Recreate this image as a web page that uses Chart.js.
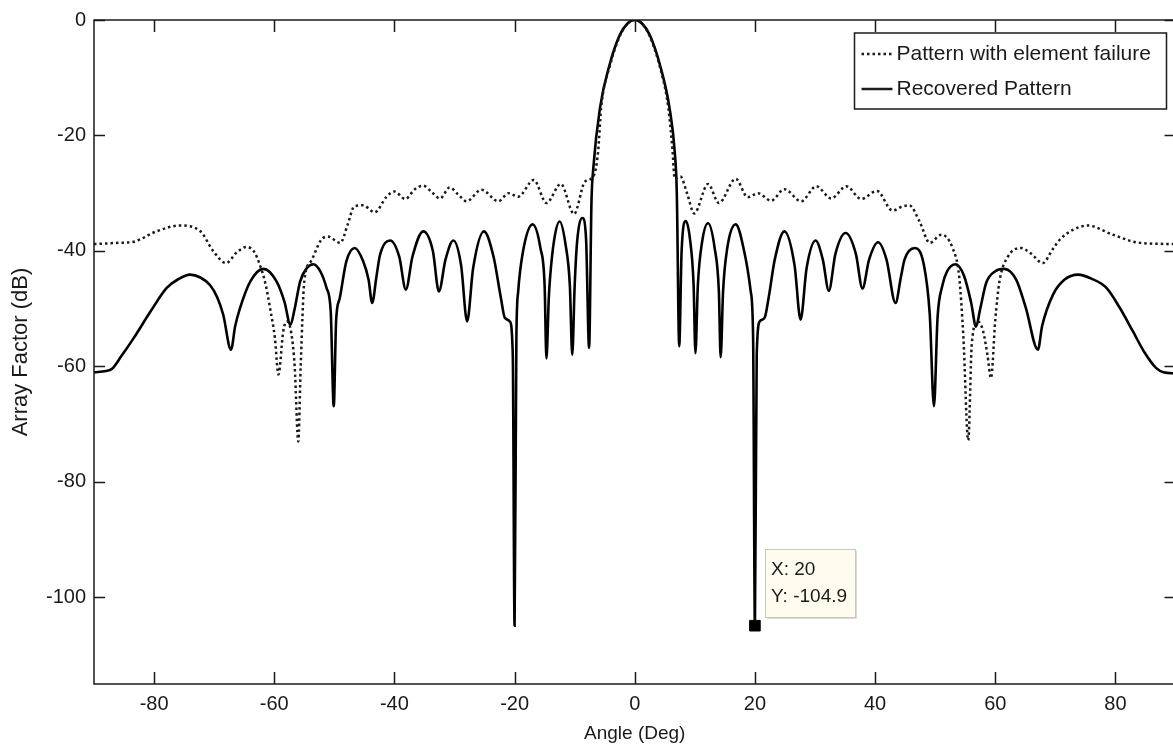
<!DOCTYPE html>
<html>
<head>
<meta charset="utf-8">
<script src="https://cdn.jsdelivr.net/npm/chart.js@4"></script>
<style>
  html, body { margin: 0; padding: 0; background: #fff; overflow: hidden; }
  canvas { display: block; }
</style>
</head>
<body>
<canvas id="afChart" width="1184" height="751"></canvas>
<script>
// values (angle in deg, level in dB)
const failAngles = [-90, -86, -83.4, -79.6, -75.7, -72.3, -70.1, -68, -66.3, -64.6, -63.3, -62.4, -61.5, -60.7, -59.9, -59.3, -58.5, -57.9, -57.2, -56.6, -56, -55.6, -55, -53.9, -52.2, -51.1, -49, -47.8, -46.7, -45.2, -43.3, -41.3, -40, -38.2, -36.6, -35.2, -33.8, -32.4, -30.8, -29.4, -28, -25.5, -22.7, -21, -19.4, -16.8, -14.7, -12.3, -10.1, -8.3, -6.9, -6.1, -5.6, -4.1, -2.4, -1.2, 0,
  1.2, 2.4, 4.1, 5.6, 6.3, 6.65, 7.6, 8.7, 9.9, 12.2, 14, 16.8, 18.8, 20.5, 22.7, 24.9, 27.7, 30.2, 32.7, 35.2, 37.7, 40.3, 42.9, 44.5, 45.7, 47.4, 49.1, 51, 52.9, 54, 54.7, 55.5, 56.1, 57.1, 58, 58.7, 59.3, 60, 60.7, 62.1, 64.3, 66, 67.9, 69.5, 70.7, 73, 75.4, 79.6, 84.1, 90];
const failLevels = [-38.8, -38.6, -38.4, -36.6, -35.6, -36.6, -40.1, -42.1, -40.3, -39.3, -40.2, -42.4, -45.5, -49.9, -55, -61.4, -53.9, -52.2, -54, -60, -73, -60, -45.3, -41.8, -38.1, -37.5, -38.6, -35.5, -32.3, -32.1, -33.3, -30.6, -29.7, -31, -29.3, -28.7, -29.8, -30.9, -29, -30.2, -31.4, -29.4, -31.4, -30, -30.6, -27.7, -31.7, -28.4, -33.6, -28, -27.1, -22.8, -15.3, -7.8, -2.6, -0.6, 0,
  -0.6, -2.6, -7.8, -15.3, -22.8, -27.5, -27.1, -30, -33.5, -28.4, -31.7, -27.5, -30.7, -30, -31.3, -29.3, -31.4, -28.8, -30.9, -28.8, -31, -29.6, -33, -32.3, -32.1, -34.9, -38.6, -37.2, -39.5, -44.5, -55, -72.8, -56, -52.2, -54, -58, -62, -52, -45.3, -41, -39.5, -40.5, -42.1, -39.8, -38.1, -36.3, -35.6, -37.2, -38.6, -38.8];

const recAngles = [-90, -88, -87, -85.5, -83.4, -80.6, -77.9, -76, -74, -72.3, -70.7, -69.5, -68.5, -67.2, -66.5, -65.7, -64, -61.8, -59.6, -58.3, -57.3, -56.6, -55.7, -54.6, -53.5, -52.3, -51.3, -50.6, -50.1, -49.7, -49.1, -48, -46.6, -45.2, -44.3, -43.7, -43, -42.4, -40.7, -39.2, -38.1, -37, -35.2, -33.6, -32.6, -31.5, -30.2, -28.9, -27.9, -26.9, -25.1, -23.5, -22.3, -21.6, -20.8, -20.3, -20, -19.7, -19.4, -18.6, -17, -15.7, -15, -14.7, -14.3, -14.1, -13.4, -12.5, -11.5, -10.8, -10.4, -10, -9.6, -8.7, -8.1, -7.6, -7.2, -6.9, -5.8, -4.2, -2.5, -1.2, 0,
  1.2, 2.5, 4.2, 5.8, 6.65, 7, 7.4, 7.8, 8.5, 9.2, 9.8, 10.1, 10.5, 11.2, 12.2, 13.3, 14, 14.3, 14.7, 15.4, 16.8, 18.3, 19.3, 19.7, 20, 20.3, 20.8, 21.6, 22.3, 23.3, 24.9, 26.6, 27.6, 28.6, 30.1, 31.3, 32.3, 33.4, 35.1, 36.8, 37.9, 39, 40.5, 41.9, 43.4, 44.3, 44.9, 46.6, 48.1, 49.1, 49.8, 50.4, 51.2, 52, 53.4, 54.8, 56, 56.8, 57.5, 58.5, 60, 61.5, 63.5, 65.1, 67.1, 67.8, 69.6, 71.5, 73.8, 76, 78.5, 80.7, 82.9, 84.8, 86.8, 88, 90];
const recLevels = [-61, -60.8, -60.4, -58.3, -55.1, -50.5, -46.4, -44.9, -44.1, -44.6, -45.9, -48, -51, -57.1, -53, -49.9, -45.3, -43.1, -45.3, -48.8, -52.8, -50, -45.3, -43, -42.3, -43.6, -46.4, -50.5, -66.9, -52, -48.2, -41.8, -39.5, -41.8, -45, -49, -44.5, -40.7, -38.2, -41, -46.7, -41, -36.6, -40, -47, -41.5, -38.2, -42.5, -52.2, -43, -36.6, -41, -48, -51.6, -52.2, -58, -104.9, -55, -47, -40.1, -35.4, -39.5, -46, -58.6, -48, -44.7, -38, -34.9, -39, -46, -58, -46, -38.5, -34.3, -38, -56.8, -31.4, -25.7, -15.3, -7.8, -2.6, -0.6, 0,
  -0.6, -2.6, -7.8, -15.3, -22.8, -30, -56.5, -40, -34.8, -38, -46, -57.7, -46, -38.5, -35.2, -39.5, -47, -58.4, -47, -39.5, -35.4, -40.5, -47, -55, -104.9, -58, -52.2, -51.6, -48, -41.5, -36.6, -42.5, -51.9, -43, -38.2, -41.5, -46.9, -40.5, -36.9, -40.5, -46.5, -41.5, -38.5, -41.5, -49, -44.5, -41.5, -39.5, -42.3, -51, -66.9, -51.5, -46, -43.5, -42.3, -44.3, -49, -53.1, -50, -45.5, -43.5, -43.1, -45, -49.9, -57.1, -53, -47.6, -45, -44.1, -44.8, -46.4, -49.8, -53.9, -57.5, -60.3, -61, -61.2];

const xTickValues = [-80, -60, -40, -20, 0, 20, 40, 60, 80];
const yTickValues = [0, -20, -40, -60, -80, -100];
const seriesNames = ['Pattern with element failure', 'Recovered Pattern'];
const tipPoint = { x: 20, y: -104.9 };

const ink = '#1a1a1a';
const fontFamily = 'Liberation Sans, Arial, sans-serif';
const tickFont = { family: fontFamily, size: 20 };

function pairs(xs, ys) {
    return xs.map((x, i) => ({ x: x, y: ys[i] }));
}

// MATLAB-like box with inward ticks, legend box and data tip
const boxPlugin = {
    id: 'boxPlugin',
    afterDatasetsDraw(chart) {
        const ctx = chart.ctx;
        const a = chart.chartArea;
        const xs = chart.scales.x, ys = chart.scales.y;
        ctx.save();
        ctx.strokeStyle = ink;
        ctx.lineWidth = 1.5;
        ctx.strokeRect(a.left, a.top, a.right - a.left, a.bottom - a.top);
        ctx.beginPath();
        xTickValues.forEach(v => {
            const p = Math.round(xs.getPixelForValue(v)) + 0.5;
            ctx.moveTo(p, a.bottom); ctx.lineTo(p, a.bottom - 12);
            ctx.moveTo(p, a.top); ctx.lineTo(p, a.top + 12);
        });
        yTickValues.forEach(v => {
            const p = Math.round(ys.getPixelForValue(v)) + 0.5;
            ctx.moveTo(a.left, p); ctx.lineTo(a.left + 11, p);
            ctx.moveTo(a.right, p); ctx.lineTo(a.right - 11, p);
        });
        ctx.stroke();

        // legend
        const lx = a.right - 321, ly = a.top + 13, lw = 312, lh = 76;
        ctx.fillStyle = '#fff';
        ctx.fillRect(lx, ly, lw, lh);
        ctx.lineWidth = 1.5;
        ctx.strokeRect(lx, ly, lw, lh);
        ctx.font = '21px ' + fontFamily;
        ctx.textBaseline = 'middle';
        ctx.fillStyle = ink;
        const rows = [ly + 21, ly + 56];
        ctx.lineWidth = 2.5;
        ctx.setLineDash([2.5, 3]);
        ctx.beginPath(); ctx.moveTo(lx + 7, rows[0]); ctx.lineTo(lx + 38, rows[0]); ctx.stroke();
        ctx.setLineDash([]);
        ctx.beginPath(); ctx.moveTo(lx + 7, rows[1]); ctx.lineTo(lx + 38, rows[1]); ctx.stroke();
        ctx.fillText(seriesNames[0], lx + 42, rows[0]);
        ctx.fillText(seriesNames[1], lx + 42, rows[1]);

        // data tip
        const px = xs.getPixelForValue(tipPoint.x), py = ys.getPixelForValue(tipPoint.y);
        const bx = Math.round(px + 10), by = Math.round(py - 77), bw = 90, bh = 68;
        ctx.fillStyle = 'rgba(0,0,0,0.15)';
        ctx.fillRect(bx + 2, by + 2, bw, bh);
        ctx.fillStyle = '#fffcef';
        ctx.fillRect(bx, by, bw, bh);
        ctx.strokeStyle = '#c8c8c0';
        ctx.lineWidth = 1;
        ctx.strokeRect(bx + 0.5, by + 0.5, bw, bh);
        ctx.fillStyle = ink;
        ctx.font = '19px ' + fontFamily;
        ctx.fillText('X: ' + tipPoint.x, bx + 6, by + 21);
        ctx.fillText('Y: ' + tipPoint.y, bx + 6, by + 48);
        ctx.restore();
    }
};

const chart = new Chart(document.getElementById('afChart'), {
    type: 'line',
    data: {
        datasets: [{
            label: seriesNames[0],
            data: pairs(failAngles, failLevels),
            borderColor: ink,
            borderWidth: 2.5,
            borderDash: [2.5, 3],
            pointRadius: 0,
            tension: 0.3,
            cubicInterpolationMode: 'monotone'
        }, {
            label: seriesNames[1],
            data: pairs(recAngles, recLevels),
            borderColor: '#000',
            borderWidth: 2.6,
            pointRadius: 0,
            tension: 0.3,
            cubicInterpolationMode: 'monotone'
        }, {
            label: 'tip',
            data: [tipPoint],
            showLine: false,
            pointStyle: 'rect',
            pointRadius: 7.5,
            pointBackgroundColor: '#000',
            pointBorderColor: '#000'
        }]
    },
    options: {
        responsive: false,
        animation: false,
        events: [],
        layout: { padding: { left: 0, top: 18, right: 8, bottom: 0 } },
        plugins: { legend: { display: false }, tooltip: { enabled: false } },
        scales: {
            x: {
                type: 'linear',
                min: -90,
                max: 90,
                afterBuildTicks: s => { s.ticks = xTickValues.map(v => ({ value: v })); },
                afterFit: s => { s.height = 67; },
                grid: { display: false, drawTicks: false },
                border: { display: false },
                ticks: { color: ink, font: tickFont, padding: 8 },
                title: { display: true, text: 'Angle (Deg)', color: ink, font: { family: fontFamily, size: 19 }, padding: { top: 2, bottom: 6 } }
            },
            y: {
                type: 'linear',
                min: -115,
                max: 0,
                afterBuildTicks: s => { s.ticks = yTickValues.map(v => ({ value: v })); },
                afterFit: s => { s.width = 94; },
                grid: { display: false, drawTicks: false },
                border: { display: false },
                ticks: { color: ink, font: tickFont, padding: 8 },
                title: { display: true, text: 'Array Factor (dB)', color: ink, font: { family: fontFamily, size: 22 }, padding: { top: 8, bottom: 0 } }
            }
        }
    },
    plugins: [boxPlugin]
});
</script>
</body>
</html>
